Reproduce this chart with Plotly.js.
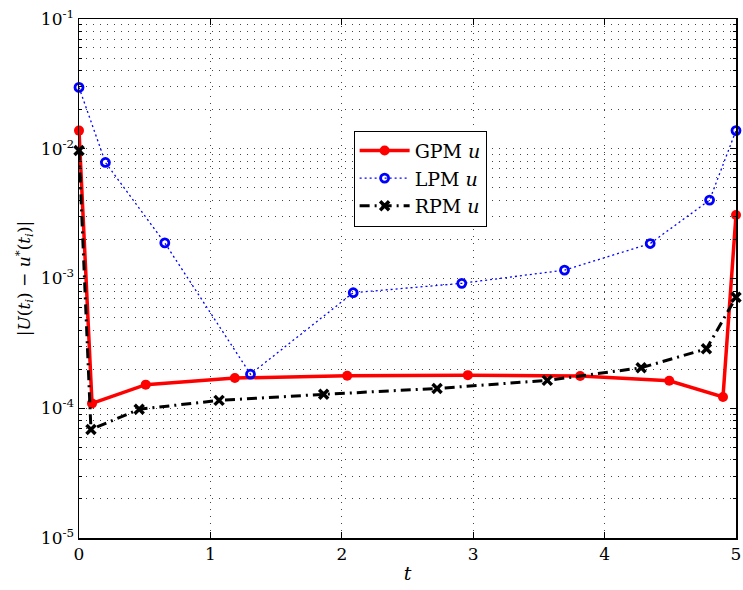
<!DOCTYPE html>
<html>
<head>
<meta charset="utf-8">
<script src="https://cdn.plot.ly/plotly-3.0.1.min.js"></script>
<style>html,body{margin:0;padding:0;background:#fff;}#chart{width:743px;height:590px;}</style>
</head>
<body>
<div id="chart"></div>
<script>
// Data
const tGPM = [0, 0.099, 0.508, 1.186, 2.041, 2.959, 3.814, 4.492, 4.901, 5];
const errGPM = [1.38e-2, 1.09e-4, 1.52e-4, 1.71e-4, 1.78e-4, 1.80e-4, 1.77e-4, 1.63e-4, 1.22e-4, 3.09e-3];
const tLPM = [0, 0.201, 0.653, 1.305, 2.087, 2.913, 3.695, 4.347, 4.799, 5];
const errLPM = [2.97e-2, 7.84e-3, 1.88e-3, 1.83e-4, 7.77e-4, 9.18e-4, 1.16e-3, 1.86e-3, 4.02e-3, 1.38e-2];
const tRPM = [0, 0.091, 0.458, 1.066, 1.862, 2.725, 3.564, 4.278, 4.775, 5];
const errRPM = [9.7e-3, 6.85e-5, 9.82e-5, 1.15e-4, 1.28e-4, 1.42e-4, 1.64e-4, 2.05e-4, 2.87e-4, 7.16e-4];
const seriesNames = ['GPM <i>u</i>', 'LPM <i>u</i>', 'RPM <i>u</i>'];
const yTickVals = [1e-5, 1e-4, 1e-3, 1e-2, 1e-1];
const yTickText = ['10<sup>-5</sup>', '10<sup>-4</sup>', '10<sup>-3</sup>', '10<sup>-2</sup>', '10<sup>-1</sup>'];
const xTickVals = [0, 1, 2, 3, 4, 5];

const FONT = 'DejaVu Serif, Liberation Serif, serif';
const GRID = '#444';
const GDASH = '1px,6px';

const traces = [
  {x: tGPM, y: errGPM, name: seriesNames[0], mode: 'lines+markers', type: 'scatter', cliponaxis: false,
   line: {color: '#ff0000', width: 3.5},
   marker: {symbol: 'circle', size: 10, color: '#ff0000'}},
  {x: tLPM, y: errLPM, name: seriesNames[1], mode: 'lines+markers', type: 'scatter', cliponaxis: false,
   line: {color: '#0000ff', width: 1.3, dash: '2px,3px'},
   marker: {symbol: 'circle-open', size: 8, color: '#0000ff', line: {width: 2.8, color: '#0000ff'}}},
  {x: tRPM, y: errRPM, name: seriesNames[2], mode: 'lines+markers', type: 'scatter', cliponaxis: false,
   line: {color: '#000000', width: 3, dash: '10px,5px,2px,5px'},
   marker: {symbol: 'x-thin-open', size: 9, color: '#000', line: {width: 3.5, color: '#000'}}}
];

const layout = {
  width: 743, height: 590,
  margin: {l: 79, r: 7, t: 19, b: 52},
  paper_bgcolor: '#fff', plot_bgcolor: '#fff',
  font: {family: FONT, size: 17, color: '#000'},
  showlegend: true,
  legend: {x: 0.418, y: 0.785, xanchor: 'left', yanchor: 'top',
           bgcolor: '#fff', bordercolor: '#000', borderwidth: 1, itemwidth: 50,
           font: {family: FONT, size: 19, color: '#000'}},
  xaxis: {
    range: [0, 5], tickmode: 'array', tickvals: xTickVals,
    showline: true, linecolor: '#000', linewidth: 1.5, mirror: 'ticks',
    ticks: 'inside', ticklen: 6, tickcolor: '#000', tickwidth: 1,
    showgrid: true, gridcolor: GRID, griddash: GDASH, gridwidth: 1,
    zeroline: false,
    tickfont: {family: FONT, size: 17, color: '#000'},
    title: {text: '<i>t</i>', font: {family: FONT, size: 19, color: '#000'}, standoff: 4}
  },
  yaxis: {
    type: 'log', range: [-5, -1], tickmode: 'array', tickvals: yTickVals, ticktext: yTickText,
    showline: true, linecolor: '#000', linewidth: 1.5, mirror: 'ticks',
    ticks: 'inside', ticklen: 6, tickcolor: '#000', tickwidth: 1,
    showgrid: true, gridcolor: GRID, griddash: GDASH, gridwidth: 1,
    zeroline: false,
    minor: {dtick: 'D1', ticks: 'inside', ticklen: 3, tickcolor: '#000',
            showgrid: true, gridcolor: GRID, griddash: GDASH, gridwidth: 1},
    tickfont: {family: FONT, size: 17, color: '#000'},
    title: {text: '|<i>U</i>(<i>t<sub>i</sub></i>) − <i>u</i><sup>*</sup>(<i>t<sub>i</sub></i>)|',
            font: {family: FONT, size: 17, color: '#000'}, standoff: 6}
  }
};

Plotly.newPlot('chart', traces, layout, {displayModeBar: false, staticPlot: true});
</script>
</body>
</html>
